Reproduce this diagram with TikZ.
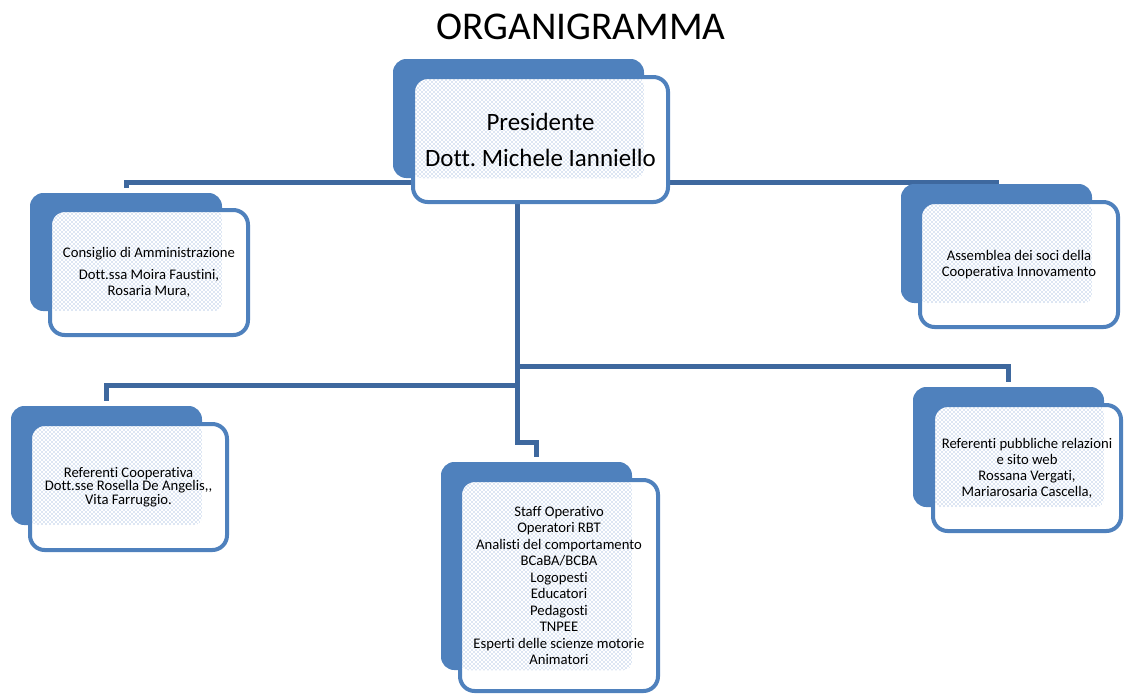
\documentclass[tikz,border=0pt]{standalone}
\usepackage{fontspec}
\setmainfont{Carlito}[Ligatures={NoCommon}]
\frenchspacing
\usetikzlibrary{backgrounds,patterns}
\definecolor{cardblue}{RGB}{79,129,189}
\definecolor{linkblue}{RGB}{62,104,158}
\definecolor{dotblue}{RGB}{112,148,204}
\tikzset{
  backcard/.style={fill=cardblue, rounded corners=10pt, anchor=north west, inner sep=0pt, outer sep=0pt},
  card/.style={draw=cardblue, line width=3pt, fill=white, rounded corners=11pt, anchor=north west, inner sep=0pt, align=center,
    font=\fontsize{11}{12}\selectfont,
    path picture={\fill [pattern=crosshatch dots, pattern color=dotblue, rounded corners=6pt] (path picture bounding box.north west) rectangle (#1.south east);}},
  link/.style={draw=linkblue, line width=3.75pt},
}
\begin{document}
\begin{tikzpicture}[x=0.75pt,y=0.75pt,yscale=-1,xscale=1]
\useasboundingbox (0,0) rectangle (1124,694);

% Title
\node (title) at (581,27) {\fontsize{29.5}{32}\selectfont ORGANIGRAMMA};

%Shape: Presidente
\node [backcard, minimum width=188.25pt, minimum height=89.25pt] (presB) at (393,59) {};
\node [card=presB, minimum width=191.25pt, minimum height=93.75pt, font=\fontsize{18.7}{27}\selectfont] (pres) at (411,75) {Presidente\\Dott. Michele Ianniello};

%Shape: Consiglio
\node [backcard, minimum width=144pt, minimum height=88.5pt] (consB) at (30,193) {};
\node [card=consB, minimum width=148.5pt, minimum height=93.75pt] (cons) at (48,208) {Consiglio di Amministrazione\\[5pt]Dott.ssa Moira Faustini,\\Rosaria Mura,};

%Shape: Assemblea
\node [backcard, minimum width=143.25pt, minimum height=89.25pt] (assB) at (901,184) {};
\node [card=assB, minimum width=148.5pt, minimum height=93.75pt] (ass) at (918,200) {Assemblea dei soci della\\Cooperativa Innovamento};

%Shape: Referenti Cooperativa
\node [backcard, minimum width=143.25pt, minimum height=89.25pt] (coopB) at (11,406) {};
\node [card=coopB, minimum width=147.75pt, minimum height=94.5pt, font=\fontsize{11}{10.2}\selectfont] (coop) at (28,422) {Referenti Cooperativa\\Dott.sse Rosella De Angelis,{},\\Vita Farruggio.};

%Shape: Referenti pubbliche relazioni
\node [backcard, minimum width=143.25pt, minimum height=90pt] (pubB) at (913,387) {};
\node [card=pubB, minimum width=141pt, minimum height=94.5pt] (pub) at (931,403) {Referenti pubbliche relazioni\\e sito web\\Rossana Vergati,\\Mariarosaria Cascella,};

%Shape: Staff Operativo
\node [backcard, minimum width=143.25pt, minimum height=156pt] (staffB) at (441,462) {};
\node [card=staffB, minimum width=148.5pt, minimum height=158.25pt, font=\fontsize{11}{12.4}\selectfont] (staff) at (458,478) {Staff Operativo\\Operatori RBT\\Analisti del comportamento\\BCaBA/BCBA\\Logopesti\\Educatori\\Pedagosti\\TNPEE\\Esperti delle scienze motorie\\Animatori};

% Connectors
\begin{scope}[on background layer]
\coordinate (trunk) at ([xshift=-16.9pt]pres.south);
\coordinate (busA) at (0,182);
\coordinate (busB) at (0,366);
\coordinate (busC) at (0,385);
\coordinate (jog) at (0,442);
\draw [link, shorten <=3.75pt] (consB.north) -- (consB.north |- busA) -- (assB.north |- busA) -- (assB.north);
\draw [link, shorten >=3.75pt] (trunk) -- (trunk |- jog) -- (staffB.north |- jog) -- (staffB.north);
\draw [link, shorten >=3.75pt] (trunk |- busB) -- (pubB.north |- busB) -- (pubB.north);
\draw [link, shorten >=3.75pt] (trunk |- busC) -- (coopB.north |- busC) -- (coopB.north);
\end{scope}

\end{tikzpicture}
\end{document}
